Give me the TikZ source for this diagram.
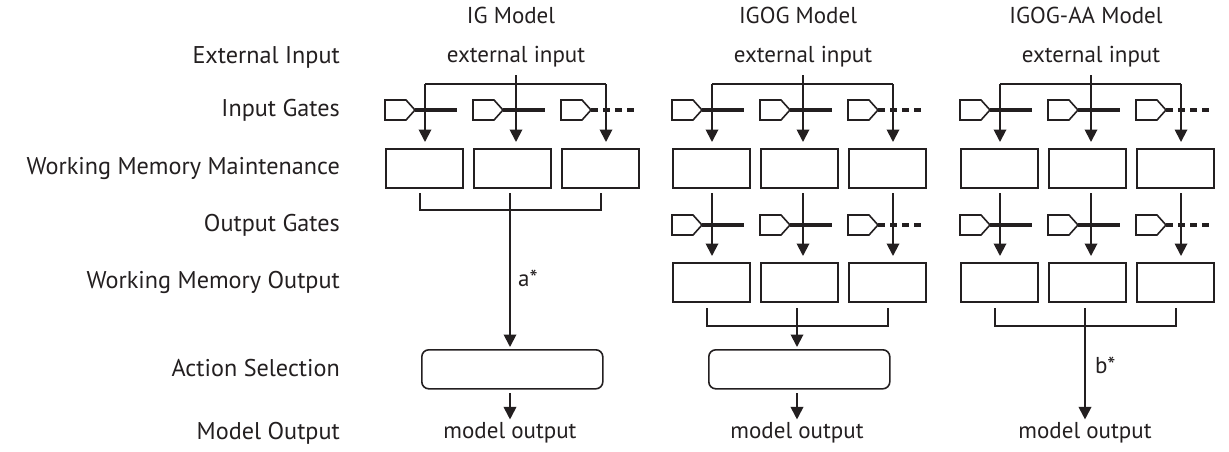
\documentclass[tikz,border=0pt]{standalone}
\usepackage{fontspec}
\setmainfont{PT Sans}
\usetikzlibrary{arrows.meta}
\definecolor{ink}{HTML}{231F20}
\begin{document}
\begin{tikzpicture}[x=1pt,y=-1pt, every node/.style={text=ink},
  txt/.style={font=\fontsize{23}{27}\selectfont, inner sep=0pt},
  lbl/.style={font=\fontsize{24.2}{28}\selectfont, inner sep=0pt, anchor=east},
  wm/.style={draw=ink, line width=1.6pt, minimum width=77pt, minimum height=39pt, inner sep=0pt, anchor=north west},
  act/.style={draw=ink, line width=1.6pt, rounded corners=7pt, minimum width=181pt, minimum height=39pt, inner sep=0pt, anchor=north west},
  gateshape/.style={draw=ink, line width=1.6pt, line join=miter},
  arr/.style={draw=ink, line width=1.9pt, -{Triangle[width=12.5pt,length=12.5pt,fill=ink]}},
  ln/.style={draw=ink, line width=1.9pt},
  gl/.style={draw=ink, line width=3.1pt},
  gld/.style={draw=ink, line width=3.1pt, dash pattern=on 7pt off 5pt},
]
\useasboundingbox (0,0) rectangle (1229,451);

% row labels
\node[lbl] (l1) at (340,57) {External Input};
\node[lbl] (l2) at (340,110) {Input Gates};
\node[lbl] (l3) at (340,168) {Working Memory Maintenance};
\node[lbl] (l4) at (340,225) {Output Gates};
\node[lbl] (l5) at (340,282) {Working Memory Output};
\node[lbl] (l6) at (340,368) {Action Selection};
\node[lbl] (l7) at (340,433) {Model Output};

% common input part
\foreach \i/\X/\T in {1/385/IG Model, 2/672/IGOG Model, 3/960/IGOG-AA Model}{
  \node[txt] (c\i-title) at (\X+126,15) {\T};
  \node[txt] (c\i-ext) at (\X+131,57) {external input};
  \coordinate (c\i-top) at (\X+131,75);
  \coordinate (c\i-bl) at (\X+40,84);
  \coordinate (c\i-br) at (\X+221,84);
  \node[wm] (c\i-m1) at (\X,148) {};
  \node[wm] (c\i-m2) at (\X+88,148) {};
  \node[wm] (c\i-m3) at (\X+176,148) {};
  \foreach \j/\g in {1/0, 2/88, 3/176}{
    \draw[gateshape] (\X+\g,100) -- (\X+\g+21,100) -- (\X+\g+30,110) -- (\X+\g+21,120) -- (\X+\g,120) -- cycle;
    \coordinate (c\i-ig\j) at (\X+\g+30,110);
  }
  \coordinate (c\i-ie1) at (\X+72,110);
  \coordinate (c\i-ie2) at (\X+160,110);
  \coordinate (c\i-ie3) at (\X+250,110);
  \draw[gl] (c\i-ig1) -- (c\i-ie1);
  \draw[gl] (c\i-ig2) -- (c\i-ie2);
  \draw[gld] (c\i-ig3) -- (c\i-ie3);
  \draw[ln] (c\i-bl) -- (c\i-br);
  \draw[arr, shorten >=6pt] (c\i-bl) -- (c\i-bl |- c\i-m1.north);
  \draw[arr, shorten >=6pt] (c\i-top) -- (c\i-top |- c\i-m2.north);
  \draw[arr, shorten >=6pt] (c\i-br) -- (c\i-br |- c\i-m3.north);
}

% output gates for IGOG and IGOG-AA
\foreach \i/\X in {2/672, 3/960}{
  \coordinate (c\i-v1) at (\X+40,193);
  \coordinate (c\i-v2) at (\X+131,193);
  \coordinate (c\i-v3) at (\X+221,193);
  \node[wm] (c\i-w1) at (\X,262) {};
  \node[wm] (c\i-w2) at (\X+88,262) {};
  \node[wm] (c\i-w3) at (\X+176,262) {};
  \foreach \j/\g in {1/0, 2/88, 3/176}{
    \draw[gateshape] (\X+\g,215) -- (\X+\g+21,215) -- (\X+\g+30,225) -- (\X+\g+21,235) -- (\X+\g,235) -- cycle;
    \coordinate (c\i-og\j) at (\X+\g+30,225);
  }
  \coordinate (c\i-oe1) at (\X+72,225);
  \coordinate (c\i-oe2) at (\X+160,225);
  \coordinate (c\i-oe3) at (\X+250,225);
  \draw[gl] (c\i-og1) -- (c\i-oe1);
  \draw[gl] (c\i-og2) -- (c\i-oe2);
  \draw[gld] (c\i-og3) -- (c\i-oe3);
  \draw[arr, shorten >=6pt] (c\i-v1) -- (c\i-v1 |- c\i-w1.north);
  \draw[arr, shorten >=6pt] (c\i-v2) -- (c\i-v2 |- c\i-w2.north);
  \draw[arr, shorten >=6pt] (c\i-v3) -- (c\i-v3 |- c\i-w3.north);
  \coordinate (c\i-k1) at (\X+35,308);
  \coordinate (c\i-k2) at (\X+125,308);
  \coordinate (c\i-k3) at (\X+216,308);
  \draw[ln] (c\i-k1) -- ++(0,18) -| (c\i-k3);
  \node[txt] (c\i-out) at (\X+125,433) {model output};
}

% IG model lower part
\coordinate (c1-k1) at (385+35,193);
\coordinate (c1-k2) at (385+125,193);
\coordinate (c1-k3) at (385+216,193);
\draw[ln] (c1-k1) -- ++(0,17) -| (c1-k3);
\node[act] (c1-act) at (385+36,349) {};
\draw[arr, shorten >=2pt] (c1-k2) -- (c1-k2 |- c1-act.north);
\node[txt, anchor=west] (c1-a) at (385+133,278) {a*};
\coordinate (c1-o) at (385+125,393);
\node[txt] (c1-out) at (385+125,433) {model output};
\draw[arr, shorten >=3pt] (c1-o) -- (c1-o |- c1-out.north);

% IGOG lower part
\node[act] (c2-act) at (672+36,349) {};
\draw[arr, shorten >=2pt] (c2-k2) -- (c2-k2 |- c2-act.north);
\coordinate (c2-o) at (672+125,393);
\draw[arr, shorten >=3pt] (c2-o) -- (c2-o |- c2-out.north);

% IGOG-AA lower part
\draw[arr, shorten >=3pt] (c3-k2) -- (c3-k2 |- c3-out.north);
\node[txt, anchor=west] (c3-b) at (960+135,365) {b*};
\end{tikzpicture}
\end{document}
